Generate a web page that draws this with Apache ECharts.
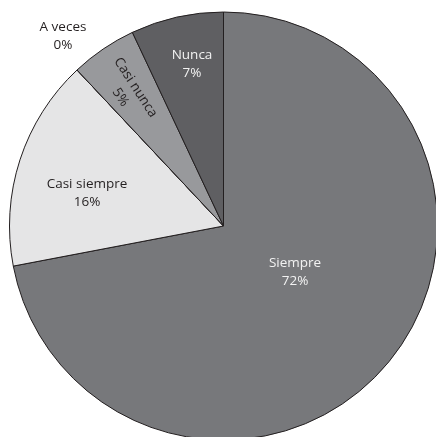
<!DOCTYPE html>
<html>
<head>
<meta charset="utf-8">
<script src="https://cdn.jsdelivr.net/npm/echarts@6/dist/echarts.min.js"></script>
<style>
html,body{margin:0;padding:0;background:#fff;}
#chart{width:436px;height:437px;}
</style>
</head>
<body>
<div id="chart"></div>
<script>
var categories = ['Siempre', 'Casi siempre', 'A veces', 'Casi nunca', 'Nunca'];
var values = [72, 16, 0, 5, 7];
var percentLabels = ['72%', '16%', '0%', '5%', '7%'];

var sliceColors = ['#77787b', '#e5e5e6', '#bcbdc0', '#98999c', '#5f5f62'];
var labelColors = ['#f2f2f2', '#231f20', '#231f20', '#231f20', '#f2f2f2'];
var labelRotate = [0, 0, 0, -57, 0];
var labelAnchor = [[295, 272], [87, 193], [63, 36], [128, 92.5], [192, 64]];

var data = categories.map(function (c, i) {
  return {
    name: c,
    value: values[i],
    itemStyle: { color: sliceColors[i] },
    label: { color: labelColors[i], rotate: labelRotate[i] }
  };
});

var chart = echarts.init(document.getElementById('chart'), null, { renderer: 'canvas' });
chart.setOption({
  animation: false,
  backgroundColor: '#ffffff',
  series: [{
    type: 'pie',
    center: [223.5, 226],
    radius: 214,
    startAngle: 90,
    clockwise: true,
    avoidLabelOverlap: false,
    minShowLabelAngle: -1,
    itemStyle: { borderColor: '#231f20', borderWidth: 1 },
    label: {
      show: true,
      position: 'inside',
      fontFamily: 'Open Sans',
      fontSize: 13.5,
      lineHeight: 18,
      align: 'center',
      verticalAlign: 'middle',
      formatter: function (p) { return p.name + '\n' + percentLabels[p.dataIndex]; }
    },
    labelLine: { show: false },
    labelLayout: function (p) {
      var a = labelAnchor[p.dataIndex];
      return { x: a[0], y: a[1], align: 'center', verticalAlign: 'middle' };
    },
    emphasis: { disabled: true },
    data: data
  }]
});
</script>
</body>
</html>
